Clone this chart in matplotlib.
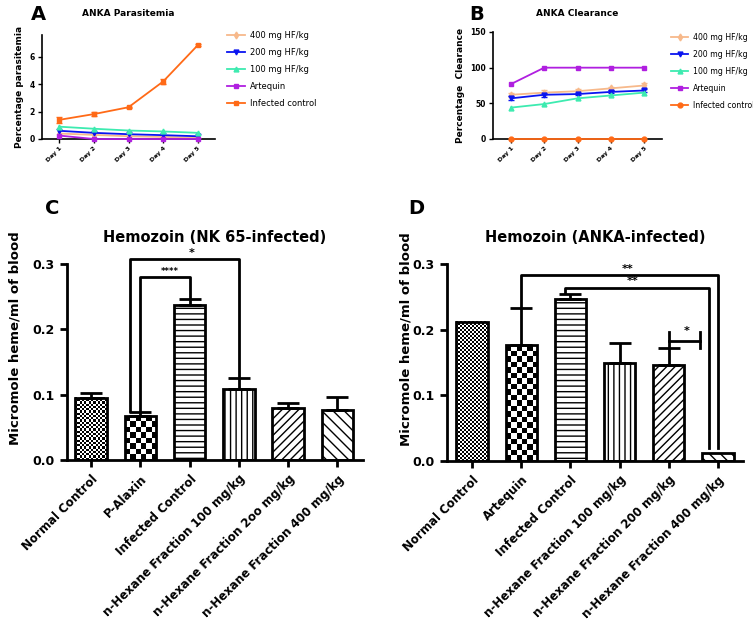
import numpy as np
import matplotlib
matplotlib.use('Agg')
import matplotlib.pyplot as plt
from matplotlib.lines import Line2D

# Panel A / B: daily values
days = ['Day 1', 'Day 2', 'Day 3', 'Day 4', 'Day 5']
groups = ['400 mg HF/kg', '200 mg HF/kg', '100 mg HF/kg', 'Artequin', 'Infected control']
colors = ['#F7B98B', '#0A14F0', '#3DEBB0', '#B01FE0', '#FF6A17']
markers_a = ['d', 'v', '^', 's', 's']
markers_b = ['d', 'v', '^', 's', 'o']

parasitemia_400 = [0.40, 0.30, 0.20, 0.15, 0.10]
parasitemia_200 = [0.60, 0.45, 0.35, 0.28, 0.20]
parasitemia_100 = [0.90, 0.75, 0.62, 0.55, 0.45]
parasitemia_art = [0.25, 0.0, 0.0, 0.0, 0.0]
parasitemia_inf = [1.40, 1.82, 2.32, 4.20, 6.85]
parasitemia_inf_err = [0.20, 0.12, 0.05, 0.20, 0.06]

clearance_400 = [62, 65, 67, 71, 75]
clearance_400_err = [3, 4, 3, 2, 4]
clearance_200 = [57, 62, 63, 66, 68]
clearance_200_err = [3, 3, 2, 2, 2]
clearance_100 = [44, 49, 57, 61, 65]
clearance_art = [77, 100, 100, 100, 100]
clearance_inf = [0, 0, 0, 0, 0]

# Panel C / D: hemozoin
labels_c = ['Normal Control', 'P-Alaxin', 'Infected Control', 'n-Hexane Fraction 100 mg/kg',
            'n-Hexane Fraction 2oo mg/kg', 'n-Hexane Fraction 400 mg/kg']
hem_c = [0.095, 0.067, 0.238, 0.108, 0.079, 0.076]
hem_c_err = [0.008, 0.007, 0.008, 0.017, 0.009, 0.020]

labels_d = ['Normal Control', 'Artequin', 'Infected Control', 'n-Hexane Fraction 100 mg/kg',
            'n-Hexane Fraction 200 mg/kg', 'n-Hexane Fraction 400 mg/kg']
hem_d = [0.212, 0.176, 0.246, 0.150, 0.146, 0.012]
hem_d_err = [0.0, 0.057, 0.008, 0.030, 0.026, 0.0]

patterns = ['fine', 'coarse', '---', '|||', '////', '\\\\\\']

# significance brackets: (x left, x right, top, left foot, right foot, text, text x)
sig_c = [(1.0, 2.0, 0.280, 0.075, 0.248, '****', 1.6),
         (0.78, 3.0, 0.307, 0.075, 0.125, '*', 2.05)]
sig_d = [(1.0, 5.0, 0.283, 0.233, 0.020, '**', 3.17),
         (1.9, 4.82, 0.264, 0.256, 0.020, '**', 3.27)]

W, H = 753, 631
fig = plt.figure(figsize=(W / 100, H / 100), dpi=100)


def box(l, t, r, b):
    return [l / W, 1 - b / H, (r - l) / W, (b - t) / H]


def line_panel(ax, series, errs, markers, ylim, yticks, ylabel, title, letter, lx, tx, legend_xy, lfs):
    x = np.arange(1, 6)
    for vals, err, c, m, name in zip(series, errs, colors, markers, groups):
        ax.errorbar(x, vals, yerr=err, color=c, marker=m, markersize=3.5, lw=1.3,
                    capsize=2, elinewidth=1, label=name, clip_on=False, zorder=3)
    ax.set_xlim(0.5, 5.5)
    ax.set_ylim(*ylim)
    ax.set_yticks(yticks)
    ax.set_xticks(x)
    ax.set_xticklabels(days, rotation=45, ha='right', rotation_mode='anchor', fontsize=4.5,
                       fontweight='bold')
    for lab in ax.get_yticklabels():
        lab.set_fontsize(5.5)
        lab.set_fontweight('bold')
    ax.tick_params(length=3, width=1, pad=2)
    ax.spines[['top', 'right']].set_visible(False)
    ax.spines[['left', 'bottom']].set_linewidth(1.2)
    ax.set_ylabel(ylabel, fontsize=6.5, fontweight='bold', labelpad=4)
    fig.text(tx / W, 1 - 14 / H, title, fontsize=6.5, fontweight='bold', ha='center', va='center')
    fig.text(lx / W, 1 - 15 / H, letter, fontsize=14, fontweight='bold', ha='center', va='center')
    handles = [Line2D([], [], color=c, marker=m, markersize=3.5, lw=1.3)
               for c, m in zip(colors, markers)]
    ax.legend(handles, groups, loc='upper left', bbox_to_anchor=(legend_xy[0] / W, 1 - legend_xy[1] / H),
              bbox_transform=fig.transFigure, frameon=False, fontsize=lfs, handlelength=2.2,
              labelspacing=0.95 * 6 / lfs, borderaxespad=0, borderpad=0, handletextpad=0.6)


axA = fig.add_axes(box(42, 35, 215, 139))
line_panel(axA, [parasitemia_400, parasitemia_200, parasitemia_100, parasitemia_art, parasitemia_inf],
           [None, None, None, None, parasitemia_inf_err], markers_a, (0, 7.6), [0, 2, 4, 6],
           'Percentage parasitemia', 'ANKA Parasitemia', 'A', 38, 128, (227, 31), 6)

axB = fig.add_axes(box(493, 32, 662, 139))
line_panel(axB, [clearance_400, clearance_200, clearance_100, clearance_art, clearance_inf],
           [clearance_400_err, clearance_200_err, None, None, None], markers_b, (0, 150),
           [0, 50, 100, 150], 'Percentage  Clearance', 'ANKA Clearance', 'B', 477, 577, (671, 33), 5.6)
axB.set_xlim(0.46, 5.54)


def checker(ax, bar, cell):
    x, y, w, h = bar.get_x(), bar.get_y(), bar.get_width(), bar.get_height()
    p0 = ax.transData.transform((x, y))
    p1 = ax.transData.transform((x + w, y + h))
    nx = max(1, int(round((p1[0] - p0[0]) / cell)))
    ny = max(1, int(round((p1[1] - p0[1]) / cell)))
    img = np.indices((ny, nx)).sum(axis=0) % 2
    ax.imshow(img, cmap='gray', extent=(x, x + w, y, y + h), interpolation='nearest',
              aspect='auto', zorder=1.5)


def bar_panel(ax, labels, vals, errs, sigs, title, letter, lx, fine_cell, ylab_x):
    x = np.arange(len(vals))
    ax.set_xlim(-0.49, 5.52)
    ax.set_ylim(0, 0.3)
    bars = ax.bar(x, vals, width=0.64, facecolor='white', edgecolor='black', linewidth=2, zorder=2)
    for b, p in zip(bars, patterns):
        if p == 'fine':
            b.set_facecolor('none')
            checker(ax, b, fine_cell)
        elif p == 'coarse':
            b.set_facecolor('none')
            checker(ax, b, 5.5)
        else:
            b.set_hatch(p)
    ax.set_xlim(-0.49, 5.52)
    ax.set_ylim(0, 0.3)
    err = np.array(errs)
    m = err > 0
    ax.errorbar(x[m], np.array(vals)[m], yerr=[np.zeros(m.sum()), err[m]], fmt='none',
                ecolor='black', elinewidth=2, capsize=8, capthick=2, zorder=3)
    for x1, x2, top, f1, f2, txt, tx in sigs:
        ax.plot([x1, x1, x2, x2], [f1, top, top, f2], color='black', lw=2, clip_on=False, zorder=4)
        ax.text(tx, top + 0.002, txt, ha='center', va='bottom', fontsize=6 if len(txt) > 2 else 8,
                fontweight='bold')
    ax.set_xticks(x)
    ax.set_xticklabels(labels, rotation=45, ha='right', rotation_mode='anchor', fontsize=8.5,
                       fontweight='bold')
    ax.set_yticks([0, 0.1, 0.2, 0.3])
    ax.set_yticklabels(['0.0', '0.1', '0.2', '0.3'], fontsize=9, fontweight='bold')
    ax.tick_params(length=5, width=2, pad=4)
    ax.spines[['top', 'right']].set_visible(False)
    ax.spines[['left', 'bottom']].set_linewidth(2)
    ax.set_ylabel('Micromole heme/ml of blood', fontsize=9.5, fontweight='bold')
    ax.yaxis.set_label_coords(ylab_x, 0.62)
    ax.set_title(title, fontsize=10.5, fontweight='bold', pad=16)
    fig.text(lx / W, 1 - 208 / H, letter, fontsize=14, fontweight='bold', ha='center', va='center')


axC = fig.add_axes(box(67, 264, 363, 460))
bar_panel(axC, labels_c, hem_c, hem_c_err, sig_c, 'Hemozoin (NK 65-infected)', 'C', 52, 2.2, -0.155)

axD = fig.add_axes(box(447, 264, 743, 461))
bar_panel(axD, labels_d, hem_d, hem_d_err, sig_d, 'Hemozoin (ANKA-infected)', 'D', 416, 2.0, -0.115)
axD.set_xlim(-0.51, 5.51)
# small bracket between the 200 and 400 mg/kg groups
axD.plot([4.0, 4.0], [0.172, 0.197], color='black', lw=2, zorder=4)
axD.plot([4.0, 4.63], [0.183, 0.183], color='black', lw=2, zorder=4)
axD.plot([4.63, 4.63], [0.172, 0.197], color='black', lw=2, zorder=4)
axD.text(4.37, 0.19, '*', ha='center', va='bottom', fontsize=8, fontweight='bold')

fig.savefig('out.png', dpi=100)
